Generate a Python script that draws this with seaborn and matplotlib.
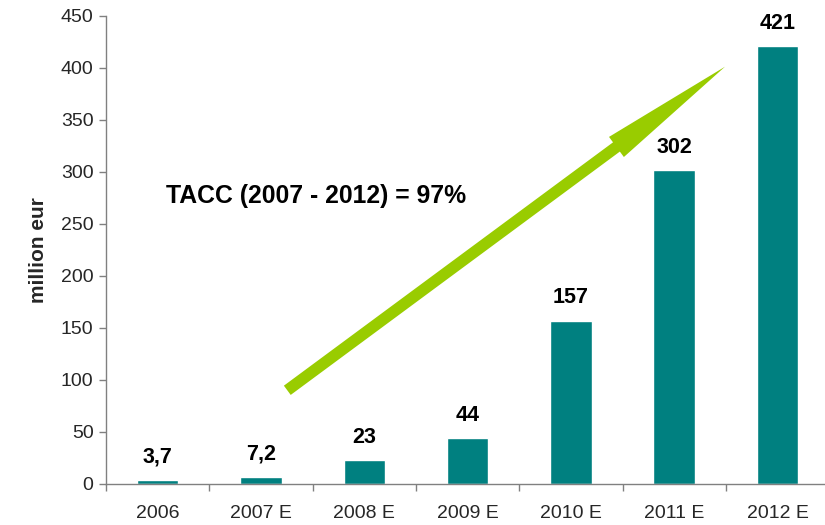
import matplotlib
matplotlib.use("Agg")
import matplotlib.pyplot as plt
import matplotlib.transforms as mtransforms
from matplotlib.patches import FancyArrow
from matplotlib.ticker import FixedLocator
import seaborn as sns
import pandas as pd

categories = ["2006", "2007 E", "2008 E", "2009 E", "2010 E", "2011 E", "2012 E"]
values = [3.7, 7.2, 23, 44, 157, 302, 421]
value_labels = ["3,7", "7,2", "23", "44", "157", "302", "421"]
y_ticks = [0, 50, 100, 150, 200, 250, 300, 350, 400, 450]
annotation_text = "TACC (2007 - 2012) = 97%"
y_label = "million eur"

sns.set_style("white")
plt.rcParams["font.family"] = ["Liberation Sans", "DejaVu Sans"]

W, H = 825, 525
fig = plt.figure(figsize=(W / 100, H / 100), dpi=100)
ax = fig.add_axes([106 / W, 41 / H, 7 * 103.3 / W, 468 / H])

df = pd.DataFrame({"cat": categories, "val": values})
sns.barplot(data=df, x="cat", y="val", color="#008080", width=0.4,
            saturation=1, ax=ax)

ax.set_ylim(0, 450)
ax.set_xlim(-0.5, len(categories) - 0.5)
ax.set_yticks(y_ticks)
ax.set_yticklabels([str(t) for t in y_ticks], fontsize=14)
ax.set_xticks(range(len(categories)))
ax.set_xticklabels(categories, fontsize=14)
ax.xaxis.set_minor_locator(FixedLocator([i - 0.5 for i in range(len(categories) + 1)]))
ax.tick_params(axis="x", which="major", length=0, pad=15)
ax.tick_params(axis="x", which="minor", length=5, width=1, color="#808080", direction="out")
ax.tick_params(axis="y", length=5, width=1, color="#808080", pad=4, direction="out")
ax.tick_params(bottom=True, left=True, which="both")
ax.set_xlabel("")
ax.set_ylabel(y_label, fontsize=15, fontweight="bold", labelpad=9)

for side in ["top", "right"]:
    ax.spines[side].set_visible(False)
for side in ["left", "bottom"]:
    ax.spines[side].set_color("#808080")
    ax.spines[side].set_linewidth(1)

for i, (v, lab) in enumerate(zip(values, value_labels)):
    ax.annotate(lab, xy=(i, v), xytext=(0, 12.5), textcoords="offset points",
                ha="center", va="baseline", fontsize=15.5, fontweight="bold",
                color="black")

# growth arrow in pixel coordinates
pix = mtransforms.Affine2D().scale(1 / W, 1 / H) + fig.transFigure
tail = (287.3, H - 390.3)
tip = (725.0, H - 66.7)
arrow = FancyArrow(tail[0], tail[1], tip[0] - tail[0], tip[1] - tail[1],
                   width=11.5, head_width=25, head_length=135,
                   length_includes_head=True, color="#99CC00", lw=0,
                   transform=pix, zorder=5)
fig.patches.append(arrow)

fig.text(166 / W, 1 - 196 / H, annotation_text, fontsize=17.8, fontweight="bold",
         ha="left", va="center", color="black")

fig.savefig("out.png", dpi=100)
